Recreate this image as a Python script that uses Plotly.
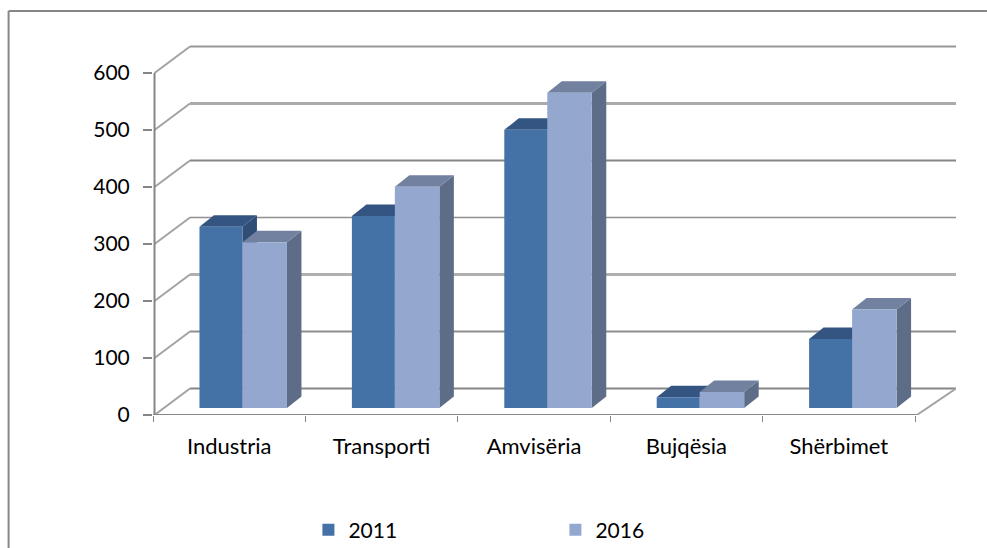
import plotly.graph_objects as go

categories = ["Industria", "Transporti", "Amvisëria", "Bujqësia", "Shërbimet"]
values_2011 = [318, 337, 488, 19, 121]
values_2016 = [291, 388, 553, 28, 173]
y_ticks = [0, 100, 200, 300, 400, 500, 600]

W, H = 987, 548
L, R_PX, T, B_PX = 152.5, 956.0, 30.0, 415.0
CAT_PX = 152.5
UNIT_PX = 0.57
n = len(categories)
x_range = [-0.5, -0.5 + (R_PX - L) / CAT_PX]
y_range = [0, (B_PX - T) / UNIT_PX]

C_2011, C_2016 = "#4471A6", "#94A8CF"
TOP_2011, SIDE_2011 = "#345482", "#2F4D75"
TOP_2016, SIDE_2016 = "#71819F", "#5E6D87"
AXIS = "#868686"
FONT = "Lato"

WALL_DX = 37 / CAT_PX
WALL_DY = 26.5 / UNIT_PX
BASE = 7 / UNIT_PX
BAR_DX = 14.5 / CAT_PX
BAR_DY = 11.5 / UNIT_PX
OFF_2011, W_2011 = -0.195, 0.282
OFF_2016, W_2016 = 0.087, 0.292

px_x = lambda p: (p - L) / (R_PX - L)
px_y = lambda p: (B_PX - p) / (B_PX - T)

shapes = []
def line(x0, y0, x1, y1, color, width, ref="x"):
    shapes.append(dict(type="line", xref=ref, yref=ref.replace("x", "y"), x0=x0, y0=y0, x1=x1, y1=y1,
                       layer="below", line=dict(color=color, width=width)))

grid_style = {0: ("#868686", 2), 100: ("#8E8E8E", 2), 200: ("#B0B0B0", 3), 300: ("#909090", 1.5),
              400: ("#858585", 2), 500: ("#ABABAB", 3), 600: ("#989898", 2)}
for v in y_ticks:
    c, w = grid_style[v]
    line(x_range[0] + WALL_DX, v + WALL_DY, x_range[1], v + WALL_DY, c, w)
    line(x_range[0] + 0.01, v, x_range[0] + WALL_DX, v + WALL_DY, "#A3A3A3", 2)
line(n - 0.5 + 0.012, 0, x_range[1], WALL_DY, "#A3A3A3", 2)
line(x_range[0] + 0.01, 0, x_range[0] + 0.01, y_ticks[-1], AXIS, 2)
line(x_range[0], 0, n - 0.5 + 0.012, 0, AXIS, 2)

def faces(vals, off, width, top_c, side_c):
    for i, v in enumerate(vals):
        x1, x2 = i + off, i + off + width
        t = BASE + v
        top = f"M{x1},{t}L{x1+BAR_DX},{t+BAR_DY}L{x2+BAR_DX},{t+BAR_DY}L{x2},{t}Z"
        side = f"M{x2},{BASE}L{x2+BAR_DX},{BASE+BAR_DY}L{x2+BAR_DX},{t+BAR_DY}L{x2},{t}Z"
        for p, c in ((side, side_c), (top, top_c)):
            shapes.append(dict(type="path", xref="x", yref="y", path=p, layer="below",
                               fillcolor=c, line=dict(width=0)))

faces(values_2011, OFF_2011, W_2011, TOP_2011, SIDE_2011)
faces(values_2016, OFF_2016, W_2016, TOP_2016, SIDE_2016)

# chart frame
line(px_x(8), px_y(548), px_x(8), px_y(11), AXIS, 2, ref="paper")
line(px_x(8), px_y(11), px_x(987), px_y(11), AXIS, 2, ref="paper")

fig = go.Figure()
fig.add_bar(name="2011", x=categories, y=values_2011, base=[BASE] * n, offset=OFF_2011, width=W_2011,
            marker=dict(color=C_2011, line=dict(width=0)))
fig.add_bar(name="2016", x=categories, y=values_2016, base=[BASE] * n, offset=OFF_2016, width=W_2016,
            marker=dict(color=C_2016, line=dict(width=0)))

fig.update_layout(
    width=W, height=H, autosize=False, barmode="overlay",
    margin=dict(l=L, r=W - R_PX, t=T, b=H - B_PX, pad=0, autoexpand=False),
    paper_bgcolor="white", plot_bgcolor="white",
    font=dict(family=FONT, size=22, color="#000000"),
    shapes=shapes,
    showlegend=True,
    legend=dict(orientation="h", x=px_x(308), xanchor="left", y=px_y(530), yanchor="middle",
                entrywidth=202, entrywidthmode="pixels", font=dict(size=21), traceorder="normal",
                bgcolor="rgba(0,0,0,0)"),
    xaxis=dict(type="category", categoryorder="array", categoryarray=categories, range=x_range,
               tickson="boundaries", ticks="outside", ticklen=6, tickcolor=AXIS, tickwidth=1,
               ticklabelstandoff=16, showgrid=False, zeroline=False, showline=False, automargin=False),
    yaxis=dict(range=y_range, tickvals=y_ticks, ticks="outside", ticklen=9, tickcolor=AXIS, tickwidth=2,
               ticklabelstandoff=9, showgrid=False, zeroline=False, showline=False, automargin=False,
               tickfont=dict(size=21)),
)

fig.write_html("out.html", config={"displayModeBar": False},
               post_script="document.body.style.margin='0';document.body.style.overflow='hidden';")
